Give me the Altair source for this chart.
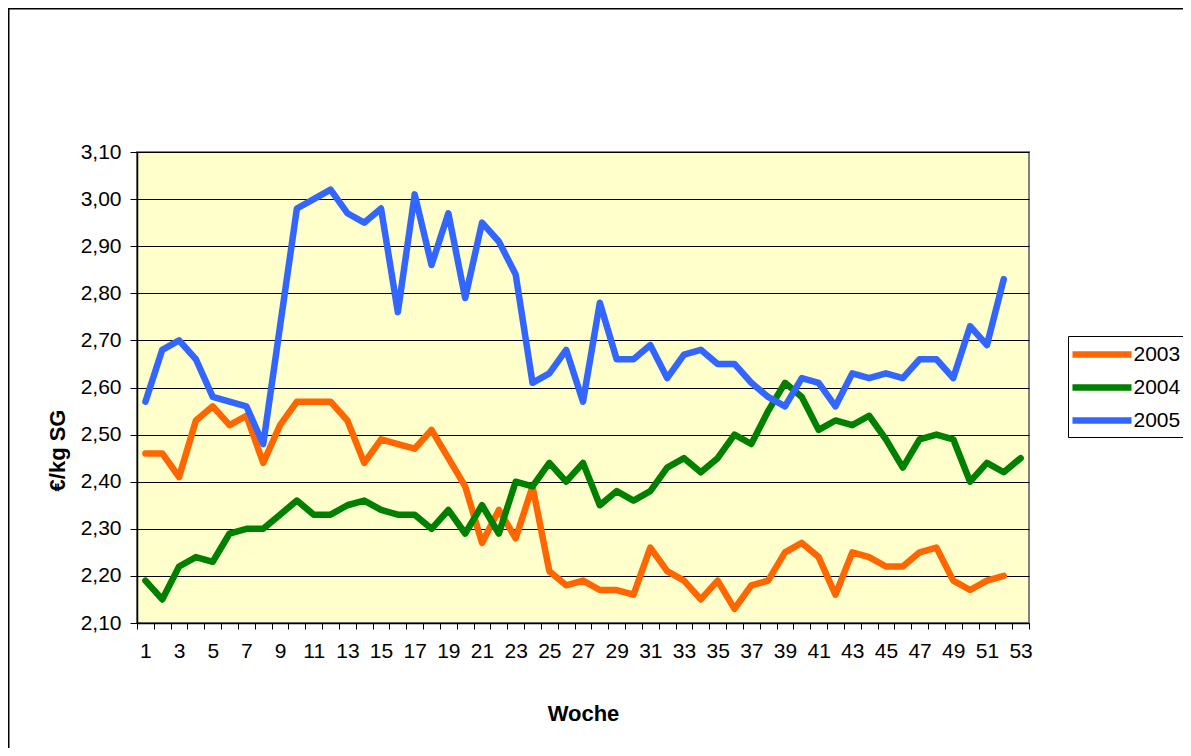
import altair as alt
import pandas as pd

weeks = list(range(1, 54))
years = ["2003", "2004", "2005"]
colors = ["#FF6600", "#008000", "#3366FF"]
y_ticks = [2.10, 2.20, 2.30, 2.40, 2.50, 2.60, 2.70, 2.80, 2.90, 3.00, 3.10]

v2003 = [2.46, 2.46, 2.41, 2.53, 2.56, 2.52, 2.54, 2.44, 2.52, 2.57,
         2.57, 2.57, 2.53, 2.44, 2.49, 2.48, 2.47, 2.51, 2.45, 2.39,
         2.27, 2.34, 2.28, 2.39, 2.21, 2.18, 2.19, 2.17, 2.17, 2.16,
         2.26, 2.21, 2.19, 2.15, 2.19, 2.13, 2.18, 2.19, 2.25, 2.27,
         2.24, 2.16, 2.25, 2.24, 2.22, 2.22, 2.25, 2.26, 2.19, 2.17,
         2.19, 2.20]
v2004 = [2.19, 2.15, 2.22, 2.24, 2.23, 2.29, 2.30, 2.30, 2.33, 2.36,
         2.33, 2.33, 2.35, 2.36, 2.34, 2.33, 2.33, 2.30, 2.34, 2.29,
         2.35, 2.29, 2.40, 2.39, 2.44, 2.40, 2.44, 2.35, 2.38, 2.36,
         2.38, 2.43, 2.45, 2.42, 2.45, 2.50, 2.48, 2.55, 2.61, 2.58,
         2.51, 2.53, 2.52, 2.54, 2.49, 2.43, 2.49, 2.50, 2.49, 2.40,
         2.44, 2.42, 2.45]
v2005 = [2.57, 2.68, 2.70, 2.66, 2.58, 2.57, 2.56, 2.48, 2.73, 2.98,
         3.00, 3.02, 2.97, 2.95, 2.98, 2.76, 3.01, 2.86, 2.97, 2.79,
         2.95, 2.91, 2.84, 2.61, 2.63, 2.68, 2.57, 2.78, 2.66, 2.66,
         2.69, 2.62, 2.67, 2.68, 2.65, 2.65, 2.61, 2.58, 2.56, 2.62,
         2.61, 2.56, 2.63, 2.62, 2.63, 2.62, 2.66, 2.66, 2.62, 2.73,
         2.69, 2.83]

rows = []
for year, vals in zip(years, [v2003, v2004, v2005]):
    for w, v in zip(weeks, vals):
        rows.append({"week": w, "value": v, "year": year})
df = pd.DataFrame(rows)

FONT = "Liberation Sans"

lines = alt.Chart(df).mark_line(strokeWidth=6.5, strokeCap="round", strokeJoin="round").encode(
    x=alt.X(
        "week:O",
        bandPosition=0.5,
        scale=alt.Scale(type="band", domain=weeks, paddingInner=0, paddingOuter=0),
        axis=alt.Axis(
            title="Woche",
            tickBand="extent",
            labelExpr="datum.value % 2 == 1 ? datum.label : ''",
            labelAngle=0,
            labelOverlap=False,
            tickSize=6,
            labelPadding=11,
            grid=False,
            titleY=90,
            titleBaseline="middle",
        ),
    ),
    y=alt.Y(
        "value:Q",
        scale=alt.Scale(domain=[2.10, 3.10], nice=False, zero=False),
        axis=alt.Axis(
            title="€/kg SG",
            values=y_ticks,
            labelExpr="replace(format(datum.value, '.2f'), '.', ',')",
            tickSize=7,
            labelPadding=9,
            grid=True,
            gridColor="black",
            gridWidth=1,
            titleX=-80,
            titleY=298,
            titleBaseline="middle",
        ),
    ),
    color=alt.Color(
        "year:N",
        scale=alt.Scale(domain=years, range=colors),
        legend=alt.Legend(
            title=None,
            orient="none",
            legendX=931,
            legendY=184,
            padding=3,
            strokeColor="black",
            fillColor="white",
            cornerRadius=0,
            symbolType="M-2.46,0H2.46",
            symbolSize=576,
            symbolStrokeWidth=6.5,
            symbolOffset=15.5,
            labelOffset=16,
            labelFont=FONT,
            labelFontSize=21,
            labelColor="black",
            rowPadding=4,
        ),
    ),
)

border = alt.Chart(pd.DataFrame({"k": [0]})).mark_rect(
    fill="white", fillOpacity=0, stroke="black", strokeWidth=2
).encode(
    x=alt.value(-128.5),
    x2=alt.value(1200),
    y=alt.value(-143.5),
    y2=alt.value(800),
)

chart = alt.layer(border, lines).properties(
    width=892,
    height=471,
    autosize=alt.AutoSizeParams(type="none"),
    padding={"left": 129, "top": 144, "right": 154, "bottom": 125},
    background="white",
).configure_view(
    fill="#FFFFCC", stroke="#808080", strokeWidth=2
).configure_axis(
    labelFont=FONT,
    labelFontSize=21,
    labelColor="black",
    titleFont=FONT,
    titleFontSize=22,
    titleFontWeight="bold",
    titleColor="black",
    domainColor="black",
    domainWidth=1.5,
    tickColor="black",
    tickWidth=1,
)

chart.save("out.html", embed_options={"renderer": "svg", "actions": False})
